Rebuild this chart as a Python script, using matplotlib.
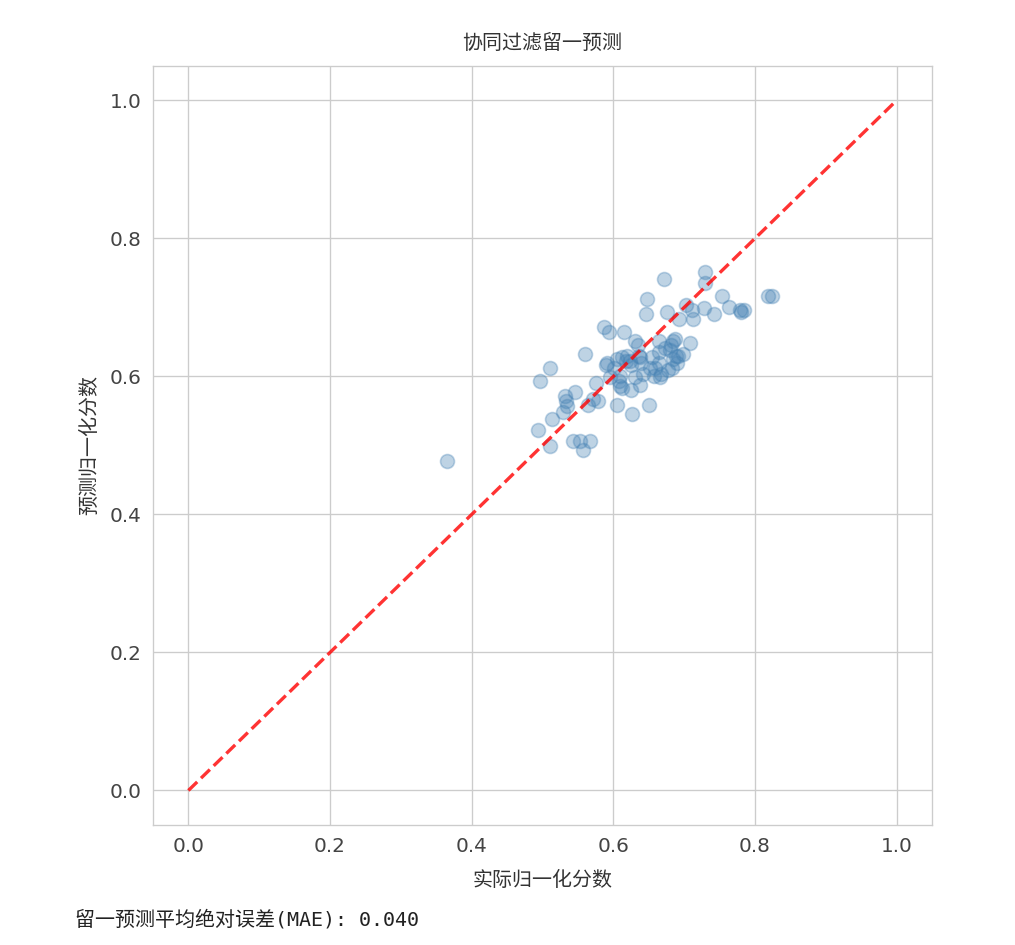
import numpy as np
import matplotlib
matplotlib.use("Agg")
import matplotlib.pyplot as plt
import seaborn as sns

sns.set_style("whitegrid")
plt.rcParams['font.family'] = ['DejaVu Sans', 'Noto Sans CJK SC']
plt.rcParams['axes.unicode_minus'] = False

# actual vs predicted normalised scores (leave-one-out)
actual = [0.365, 0.496, 0.511, 0.494, 0.511, 0.513, 0.529, 0.532, 0.533, 0.535,
          0.546, 0.543, 0.553, 0.557, 0.567, 0.560, 0.564, 0.571, 0.578, 0.575,
          0.587, 0.594, 0.590, 0.605, 0.601, 0.595, 0.608, 0.609, 0.615, 0.619,
          0.623, 0.625, 0.625, 0.626, 0.630, 0.635, 0.636, 0.639, 0.638, 0.642,
          0.646, 0.647, 0.650, 0.655, 0.657, 0.659, 0.664, 0.664, 0.667, 0.671,
          0.673, 0.676, 0.677, 0.681, 0.684, 0.685, 0.687, 0.688, 0.690, 0.693,
          0.698, 0.702, 0.708, 0.711, 0.712, 0.729, 0.729, 0.728, 0.742, 0.753,
          0.764, 0.779, 0.781, 0.784, 0.818, 0.824, 0.612, 0.618, 0.638, 0.652,
          0.680, 0.691, 0.683, 0.666, 0.630, 0.612, 0.605, 0.591, 0.664, 0.609]
predicted = [0.478, 0.593, 0.612, 0.522, 0.499, 0.539, 0.548, 0.571, 0.564, 0.557,
             0.577, 0.507, 0.507, 0.494, 0.507, 0.633, 0.559, 0.568, 0.565, 0.590,
             0.672, 0.665, 0.616, 0.559, 0.612, 0.599, 0.594, 0.586, 0.664, 0.629,
             0.623, 0.616, 0.580, 0.545, 0.652, 0.645, 0.630, 0.620, 0.588, 0.603,
             0.691, 0.712, 0.559, 0.628, 0.601, 0.612, 0.620, 0.635, 0.603, 0.741,
             0.641, 0.694, 0.610, 0.645, 0.652, 0.626, 0.655, 0.630, 0.619, 0.683,
             0.633, 0.703, 0.648, 0.696, 0.683, 0.752, 0.735, 0.699, 0.691, 0.717,
             0.700, 0.696, 0.694, 0.697, 0.716, 0.716, 0.628, 0.623, 0.628, 0.613,
             0.638, 0.630, 0.613, 0.599, 0.599, 0.584, 0.625, 0.619, 0.652, 0.601]
mae_text = "留一预测平均绝对误差(MAE): 0.040"

fig = plt.figure(figsize=(1015 / 120, 945 / 120), dpi=120)
ax = fig.add_axes([0.1507, 0.127, 0.7675, 0.8032])

ax.scatter(actual, predicted, s=70, color='steelblue', alpha=0.35)
ax.plot([0, 1], [0, 1], 'r--', lw=2, alpha=0.8)

ax.set_xlim(-0.05, 1.05)
ax.set_ylim(-0.05, 1.05)
ax.set_xticks([0.0, 0.2, 0.4, 0.6, 0.8, 1.0])
ax.set_yticks([0.0, 0.2, 0.4, 0.6, 0.8, 1.0])
ax.tick_params(labelsize=12, colors='#444444')
ax.set_xlabel('实际归一化分数', fontsize=12, color='#333333', labelpad=9)
ax.set_ylabel('预测归一化分数', fontsize=12, color='#333333', labelpad=6)
ax.set_title('协同过滤留一预测', fontsize=12, color='#333333', pad=10)

fig.text(0.074, 0.021, mae_text, fontsize=12,
         family=['DejaVu Sans Mono', 'Noto Sans CJK SC'], color='#222222')

fig.savefig('out.png', dpi=120)
